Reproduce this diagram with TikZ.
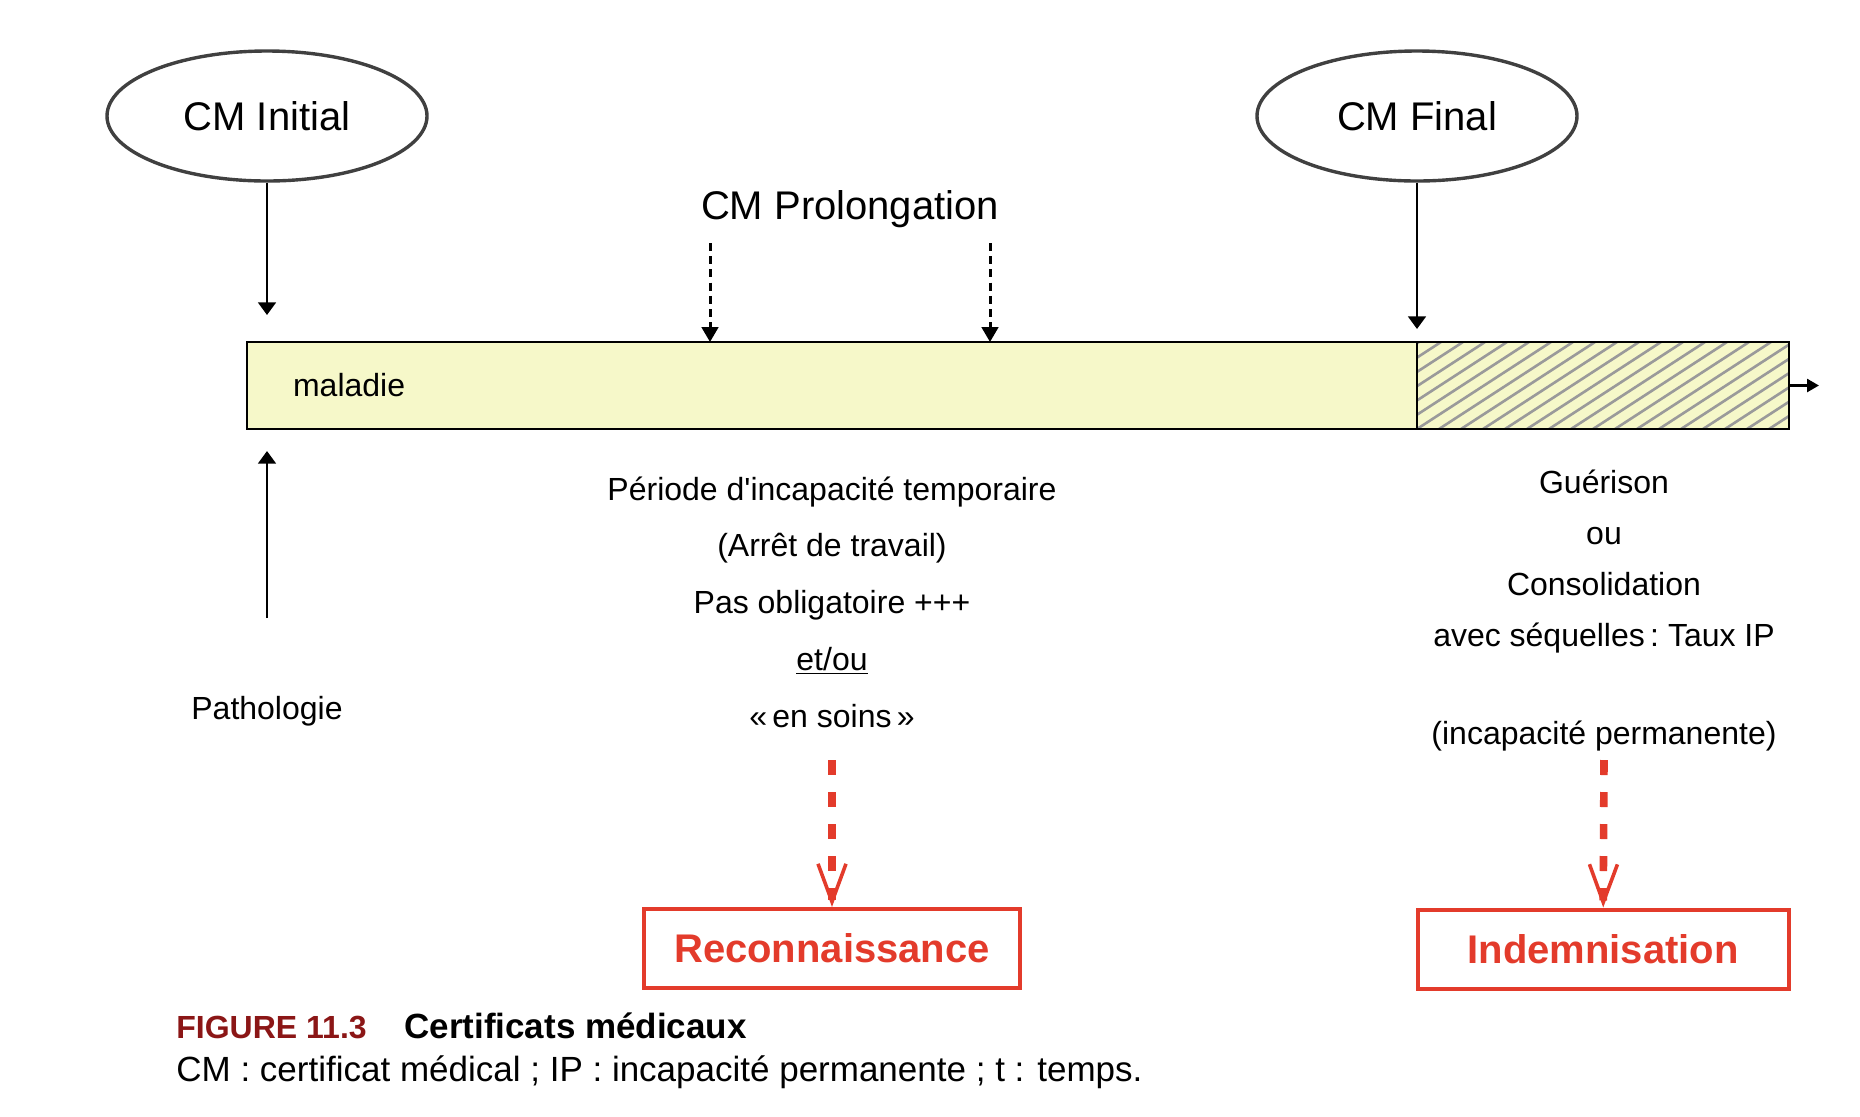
\documentclass[tikz,border=0pt]{standalone}
\usepackage{fontspec}
\setmainfont{Liberation Sans}
\usepackage{xcolor}
\definecolor{cmgray}{HTML}{404040}
\definecolor{cmyellow}{HTML}{F6F8C9}
\definecolor{cmhatch}{HTML}{9A9A9A}
\definecolor{cmred}{HTML}{E33B2B}
\definecolor{cmdarkred}{HTML}{8B1616}
\usetikzlibrary{arrows.meta,positioning,shapes.geometric}
\newcommand{\bigtxt}{\fontsize{20}{24}\selectfont}
\newcommand{\midtxt}{\fontsize{16}{19}\selectfont}

\begin{document}
\begin{tikzpicture}[x=0.5pt,y=-0.5pt,>=Triangle]
\tikzset{
 certif/.style={ellipse,draw=cmgray,line width=1.7pt,minimum width=160pt,minimum height=65pt,inner sep=0pt,font=\bigtxt},
 period/.style={draw=black,line width=1.3pt,fill=cmyellow,minimum height=43.5pt,outer sep=0pt,inner sep=0pt},
 txt/.style={font=\midtxt,align=center},
 outcome/.style={draw=cmred,line width=2pt,minimum height=39.5pt,text=cmred,font=\fontsize{20}{24}\selectfont\bfseries},
 arrow/.style={-{Triangle[length=6.3pt,width=8.8pt]},line width=1.4pt},
 dotarrow/.style={-{Triangle[length=7.5pt,width=8.3pt]},line width=1.5pt,dash pattern=on 4pt off 2.6pt},
 redarrow/.style={-{Straight Barb[length=19pt,width=14pt,line width'=1.8pt]},draw=cmred,line width=3.8pt,dash pattern=on 7.5pt off 8.5pt},
 legendtxt/.style={anchor=base west,inner sep=0pt}
}
\useasboundingbox (0,0) rectangle (1860,1116);
\node[certif] (init) at (267,116) {CM Initial};
\node[certif] (final) at (1417,116) {CM Final};
\node[font=\bigtxt] (prolong) at (850,209) {CM Prolongation};

\node[period,minimum width=585pt] (sick) at (832,385.5) {};
\node[period,minimum width=186pt,right=0pt of sick,path picture={
  \foreach \k in {-7,...,17}
   \draw[cmhatch,line width=1.3pt] ([xshift=\k*11pt]path picture bounding box.south west) -- ++(67pt,43.5pt);
 }] (after) {};
\node[txt,anchor=west] (maladie) at ([xshift=19.5pt]sick.west) {maladie};
\coordinate (tend) at ([xshift=15pt]after.east);
\draw[-{Triangle[length=6pt,width=6.5pt]},line width=1.3pt] (after) -- (tend);

\coordinate (inittip) at (267,315);
\draw[arrow] (init) -- (inittip);
\coordinate (finaltip) at (1417,329);
\draw[arrow] (final) -- (finaltip);
\coordinate (pro1) at (710,243);
\coordinate (pro2) at (990,243);
\draw[dotarrow] (pro1) -- (pro1 |- sick.north);
\draw[dotarrow] (pro2) -- (pro2 |- sick.north);

\node[txt] (patho) at (267,711.5) {Pathologie};
\coordinate (pathofoot) at (267,618);
\draw[arrow,shorten >=11pt] (pathofoot) -- (pathofoot |- sick.south);

\node[txt,font=\fontsize{16}{28.4}\selectfont] (temp) at (832,602)
 {Période d\textquotesingle incapacité temporaire\\(Arrêt de travail)\\Pas obligatoire +++\\\underline{et/ou}\\«\,en soins\,»};
\node[txt,font=\fontsize{16}{25.5}\selectfont] (cons) at (1604,610.5)
 {Guérison\\ou\\Consolidation\\avec séquelles\,:~Taux IP\\[23.5pt](incapacité permanente)};

\node[outcome,minimum width=188pt] (recon) at (832,948.5) {Reconnaissance};
\node[outcome,minimum width=185.5pt] (indem) at (1603,949) {Indemnisation};
\coordinate (tempfoot) at (832,760);
\coordinate (consfoot) at (1604,760);
\draw[redarrow] (tempfoot) -- (recon);
\draw[redarrow] (consfoot) -- (indem);

\node[legendtxt,text=cmdarkred,font=\fontsize{16}{19}\selectfont\bfseries] (fignum) at (176,1038) {FIGURE 11.3};
\node[legendtxt,font=\fontsize{17.5}{21}\selectfont\bfseries] (figtitle) at (404,1038) {Certificats médicaux};
\node[legendtxt,font=\fontsize{17.5}{21}\selectfont] (figlegend) at (176,1081) {CM : certificat médical ; IP : incapacité permanente ; t : temps.};
\end{tikzpicture}
\end{document}
